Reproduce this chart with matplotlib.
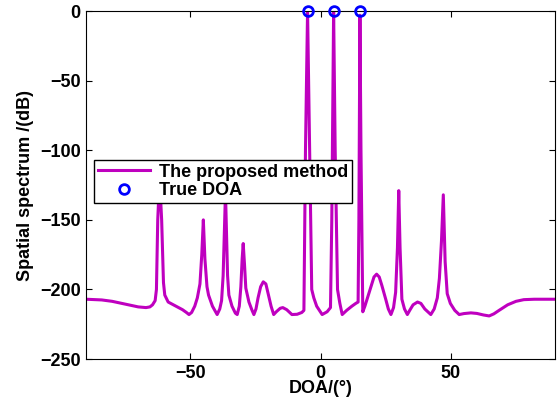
import numpy as np
import matplotlib.pyplot as plt

plt.rcParams['font.family'] = ['Liberation Sans', 'DejaVu Sans']
plt.rcParams['font.weight'] = 'bold'

# spectrum (deg, dB)
angles = [-90, -84, -80, -75, -70, -67, -65.5, -64.5, -63.5, -63, -62.5, -61.8, -61,
          -60.3, -59.8, -58.5, -56, -53, -51.5, -50.5, -49.5, -48.3, -47.3, -46.3,
          -45.6, -45, -44.4, -43.6, -43, -41.5, -39.7, -38.7, -38, -37.4, -36.5,
          -35.7, -35.2, -34, -32.7, -32, -31.2, -30.6, -30.1, -29.7, -29.2, -28.7,
          -27.5, -26.3, -25.6, -24.8, -24, -23, -22, -21, -20, -19, -18, -17, -15.5,
          -14.5, -13, -11, -9, -7.2, -6.4, -5.8, -5, -4.2, -3.4, -2.6, -1.5, 0.6,
          2.5, 3.8, 4.3, 5, 5.6, 6.5, 7.4, 8.3, 10, 12, 13.5, 14.4, 14.7, 15.1, 15.5,
          16.2, 17, 18, 19.5, 20.5, 21.5, 22.5, 23.5, 25, 26, 27, 28, 28.8, 29.5, 30,
          30.5, 31.2, 32.2, 33.3, 34.2, 35.5, 37.2, 38.5, 40, 42.3, 43.6, 44.8, 45.6,
          46.4, 47.1, 47.8, 48.6, 49.8, 51.5, 53.2, 55, 57.7, 60, 62.5, 64.7, 66.5,
          68.5, 71.8, 75, 78, 82, 90]
spectrum = [-207, -207.5, -208.5, -210.5, -212.5, -213, -212.5, -211, -208, -200,
            -150, -120, -150, -195, -204, -209, -211.5, -214.5, -216.5, -218, -216.5,
            -212, -206, -196, -175, -150, -178, -198, -204, -212, -218, -214, -208,
            -190, -130, -190, -204, -212, -217, -218, -212, -198, -178, -167, -182,
            -199, -209, -215, -218, -214, -206, -198, -194.5, -196, -204, -212, -218,
            -216, -213.5, -213, -214.5, -218, -217.8, -216.5, -215, -100, 0, -100,
            -200, -206, -212, -218, -216, -213, -150, 0, -100, -200, -210, -218, -215,
            -212, -210, -209, -150, -3, -100, -216, -212, -206, -197, -191, -189, -191,
            -197, -207, -214, -218, -213, -202, -170, -129, -170, -207, -214, -218,
            -215, -211, -209, -210, -214, -218, -214, -206, -192, -165, -132, -180,
            -203, -210, -215, -218, -217.3, -216.8, -217.2, -218.3, -219, -217.5, -215,
            -211, -208.5, -207.3, -207, -207]

true_doa = [-5, 5, 15]
true_val = [0, 0, 0]

fig = plt.figure(figsize=(5.59, 4.09), dpi=100)
ax = fig.add_axes([0.154, 0.122, 0.839, 0.851])

ax.plot(angles, spectrum, color='#bf00bf', lw=2.2, label='The proposed method')
ax.plot(true_doa, true_val, 'o', mfc='none', mec='#0000ff', mew=2, ms=7,
        label='True DOA', clip_on=False, zorder=5)

ax.set_xlim(-90, 90)
ax.set_ylim(-250, 0)
ax.set_xticks([-50, 0, 50])
ax.set_yticks([0, -50, -100, -150, -200, -250])
ax.tick_params(direction='in', top=True, right=True, labelsize=13, length=4, pad=4)
for lab in ax.get_xticklabels() + ax.get_yticklabels():
    lab.set_fontweight('bold')

ax.set_xlabel('DOA/(°)', fontsize=13, fontweight='bold', labelpad=-1)
ax.set_ylabel('Spatial spectrum /(dB)', fontsize=13, fontweight='bold', labelpad=4)

leg = ax.legend(loc='upper left', bbox_to_anchor=(0.017, 0.572), fancybox=False,
                edgecolor='black', framealpha=1, fontsize=13, handlelength=2.9,
                borderpad=0.2, labelspacing=0.1, handletextpad=0.5, borderaxespad=0)
leg.get_frame().set_linewidth(1)
for t in leg.get_texts():
    t.set_fontweight('bold')

fig.savefig('out.png', dpi=100)
